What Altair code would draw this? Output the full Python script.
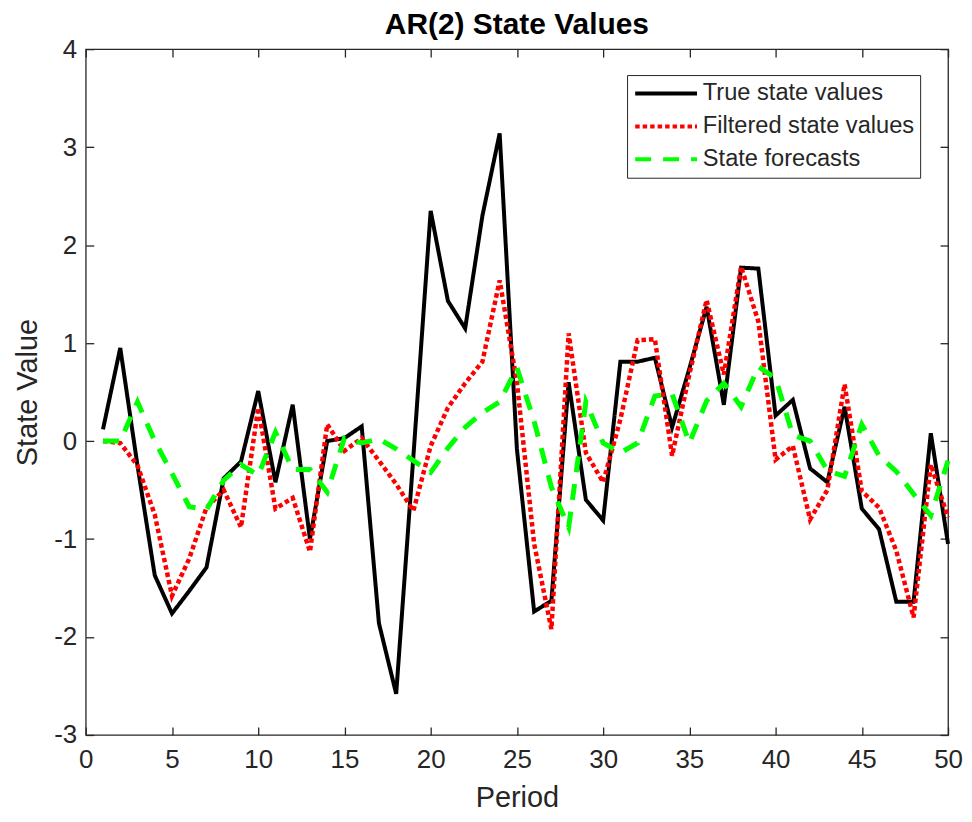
import altair as alt
import pandas as pd

periods = list(range(1, 51))

true_vals = [0.12, 0.95, -0.25, -1.37, -1.76, -1.53, -1.29, -0.38, -0.21, 0.51,
             -0.42, 0.37, -1.00, 0.00, 0.03, 0.15, -1.86, -2.58, -0.15, 2.35,
             1.43, 1.15, 2.30, 3.14, -0.08, -1.74, -1.63, 0.60, -0.60, -0.81,
             0.81, 0.81, 0.85, 0.14, 0.74, 1.37, 0.37, 1.77, 1.76, 0.26,
             0.42, -0.28, -0.42, 0.35, -0.69, -0.90, -1.64, -1.64, 0.08, -1.05]

filtered_vals = [0.00, -0.02, -0.25, -0.75, -1.58, -1.20, -0.68, -0.50, -0.88, 0.34,
                 -0.69, -0.58, -1.13, 0.17, -0.10, 0.03, -0.20, -0.44, -0.71, -0.05,
                 0.34, 0.59, 0.81, 1.64, 0.60, -1.05, -1.92, 1.10, -0.12, -0.42,
                 0.22, 1.03, 1.04, -0.15, 0.68, 1.44, 0.68, 1.78, 1.22, -0.19,
                 -0.05, -0.80, -0.50, 0.58, -0.51, -0.68, -1.12, -1.80, -0.24, -0.78]

forecast_vals = [0.00, 0.00, 0.40, 0.00, -0.33, -0.67, -0.70, -0.40, -0.24, -0.35,
                 0.09, -0.29, -0.29, -0.52, 0.03, -0.02, 0.02, -0.08, -0.20, -0.32,
                 -0.07, 0.14, 0.29, 0.40, 0.75, 0.20, -0.47, -0.88, 0.40, -0.02,
                 -0.12, -0.02, 0.46, 0.48, -0.02, 0.41, 0.59, 0.35, 0.76, 0.64,
                 0.06, 0.00, -0.30, -0.36, 0.17, -0.15, -0.31, -0.54, -0.76, -0.20]

series_names = ["True state values", "Filtered state values", "State forecasts"]
series_colors = ["#000000", "#ff0000", "#00ff00"]
series_dashes = [[1, 0], [4.5, 3], [16, 12]]
series_widths = [4, 4.5, 5]

x_ticks = list(range(0, 51, 5))
y_ticks = list(range(-3, 5))

rows = []
for name, vals in zip(series_names, [true_vals, filtered_vals, forecast_vals]):
    for p, v in zip(periods, vals):
        rows.append({"period": p, "value": v, "series": name})
df = pd.DataFrame(rows)

W, H = 865, 688
FONT = "Liberation Sans"
AX = "#262626"

x_scale = alt.Scale(domain=[0, 50], nice=False, zero=False)
y_scale = alt.Scale(domain=[-3, 4], nice=False, zero=False)

color_enc = alt.Color("series:N",
                      scale=alt.Scale(domain=series_names, range=series_colors),
                      legend=alt.Legend(title=None))
dash_enc = alt.StrokeDash("series:N",
                          scale=alt.Scale(domain=series_names, range=series_dashes),
                          legend=alt.Legend(title=None))

x_axis_main = alt.Axis(orient="bottom", offset=-8, tickSize=8, values=x_ticks,
                       labelPadding=12, labelFlush=False, domain=False, grid=False,
                       title="Period", titleX=W / 2, titleY=71,
                       titleBaseline="middle", titleAlign="center")
y_axis_main = alt.Axis(orient="left", offset=-8, tickSize=8, values=y_ticks,
                       labelPadding=9, labelFlush=False, domain=False, grid=False,
                       labelExpr="'' + datum.value",
                       title="State Value", titleX=-66, titleY=H / 2,
                       titleAngle=270, titleBaseline="middle", titleAlign="center")

layers = []
for i, name in enumerate(series_names):
    base = alt.Chart(df).transform_filter(alt.datum.series == name)
    if i == 0:
        xe = alt.X("period:Q", scale=x_scale, axis=x_axis_main)
        ye = alt.Y("value:Q", scale=y_scale, axis=y_axis_main)
    else:
        xe = alt.X("period:Q", scale=x_scale, axis=None)
        ye = alt.Y("value:Q", scale=y_scale, axis=None)
    layers.append(
        base.mark_line(strokeWidth=series_widths[i], strokeCap="butt")
        .encode(x=xe, y=ye, color=color_enc, strokeDash=dash_enc)
    )

ticks_layer = alt.Chart(df).mark_point(opacity=0).encode(
    x=alt.X("period:Q", scale=x_scale,
            axis=alt.Axis(orient="top", offset=-8, tickSize=8, values=x_ticks,
                          labels=False, domain=False, grid=False, title=None)),
    y=alt.Y("value:Q", scale=y_scale,
            axis=alt.Axis(orient="right", offset=-8, tickSize=8, values=y_ticks,
                          labels=False, domain=False, grid=False, title=None)),
)
layers.append(ticks_layer)

chart = (
    alt.layer(*layers)
    .resolve_axis(x="independent", y="independent")
    .properties(
        width=W, height=H,
        padding={"left": 78, "top": 40, "right": 16, "bottom": 78},
        autosize=alt.AutoSizeParams(type="none"),
        title=alt.TitleParams("AR(2) State Values", fontSize=30, fontWeight="bold",
                              color="#000000", font=FONT, anchor="middle",
                              frame="group", offset=8, dy=12),
        background="white",
    )
    .configure_view(stroke=AX, strokeWidth=1.3)
    .configure_axis(labelFont=FONT, labelFontSize=26, labelColor=AX,
                    tickColor=AX, tickWidth=1.3,
                    titleFont=FONT, titleFontSize=29, titleColor=AX,
                    titleFontWeight="normal")
    .configure_legend(orient="none", legendX=543, legendY=26,
                      padding=6, strokeColor=AX, fillColor="white",
                      labelFont=FONT, labelFontSize=23.7, labelColor=AX,
                      labelLimit=400, labelOffset=45, rowPadding=8,
                      symbolType="M-1,0H5", symbolSize=427,
                      symbolStrokeWidth=4, cornerRadius=0)
)

chart.save("out.html", embed_options={"renderer": "svg", "actions": False})
